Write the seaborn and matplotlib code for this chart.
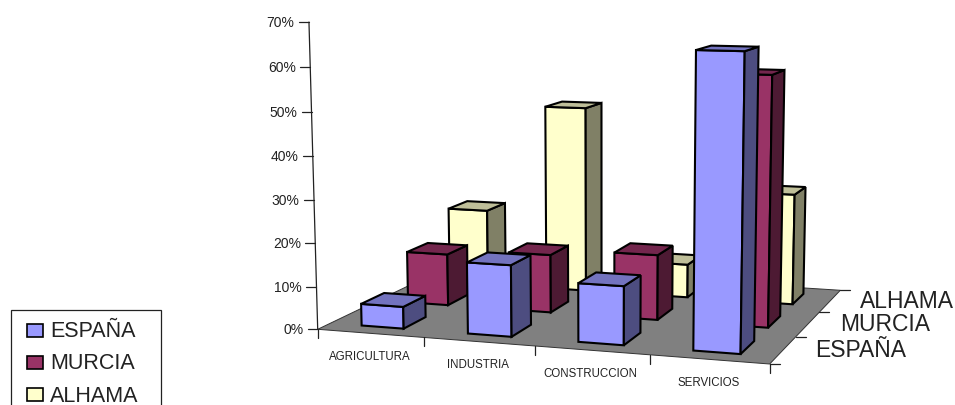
import numpy as np
import matplotlib
matplotlib.use("Agg")
import matplotlib.pyplot as plt
from matplotlib.legend_handler import HandlerPatch
from matplotlib.patches import Patch, Polygon, Rectangle
import seaborn as sns

# data, % of employment per sector
sectores = ["AGRICULTURA", "INDUSTRIA", "CONSTRUCCION", "SERVICIOS"]
zonas = ["ESPAÑA", "MURCIA", "ALHAMA"]
espana = [5.1, 16.4, 13.3, 65.3]
murcia = [12.5, 13.9, 15.4, 58.0]
alhama = [19.0, 46.0, 8.2, 26.9]
ticks_y = [0, 10, 20, 30, 40, 50, 60, 70]

sns.set_theme(style="white")
plt.rcParams['font.family'] = ['Liberation Sans', 'DejaVu Sans']
colores = sns.color_palette(["#9999FF", "#993366", "#FFFFCC"])
texto = "#222222"

# perspective fitted on the picture: floor (u, v) -> pixels, plus height
H = np.array([[98.25, 70.5, 317.7],
              [1.685, -5.8, 330.3],
              [-0.01915, 0.058, 1.0]])
punto_fuga = np.array([604.0, 10400.0, 1.0])
k = -0.000423


def proyecta(u, v, z=0):
    p = H @ np.array([u, v, 1.0]) + z * k * punto_fuga
    return p[:2] / p[2]


fig = plt.figure(figsize=(9.55, 4.06), dpi=100)
ax = fig.add_axes([0, 0, 1, 1])
ax.set_xlim(0, 955)
ax.set_ylim(406, 0)
ax.axis("off")


def cara(puntos, color):
    ax.add_patch(Polygon([proyecta(*q) for q in puntos], closed=True, facecolor=color,
                         edgecolor="black", lw=1.5, joinstyle="miter"))


# suelo
nx, ny = len(sectores), len(zonas)
ax.add_patch(Polygon([proyecta(0, 0), proyecta(nx, 0), proyecta(nx, ny), proyecta(0, ny)],
                     closed=True, facecolor="#808080", edgecolor="#333333", lw=0.7))

# eje y
base, tope = proyecta(0, 0, 0), proyecta(0, 0, ticks_y[-1])
ax.plot([base[0], tope[0]], [base[1], tope[1]], color="#222222", lw=0.9)
for t in ticks_y:
    x, y = proyecta(0, 0, t)
    ax.plot([x - 10, x], [y, y], color="#222222", lw=0.9)
    ax.text(x - 14.5, y, f"{t}%", ha="right", va="center", fontsize=10, color=texto)

# eje de sectores
for i in range(nx + 1):
    x, y = proyecta(i, 0)
    ax.plot([x, x], [y, y + 9], color="#222222", lw=0.9)
for i, nombre in enumerate(sectores):
    a, b = proyecta(i, 0), proyecta(i + 1, 0)
    ax.text((a[0] + b[0]) / 2 - 1.5, (a[1] + b[1]) / 2 + 22.5, nombre, ha="center", va="center",
            fontsize=8.3, color=texto)

# eje de zonas
for j in range(ny + 1):
    x, y = proyecta(nx, j)
    ax.plot([x, x + 10], [y, y], color="#222222", lw=0.9)
for j, nombre in enumerate(zonas):
    x, y = proyecta(nx, j + 0.5)
    ax.text(x + 77, y, nombre, ha="center", va="center", fontsize=16.5, color=texto)

# barras, de atras hacia delante
valores = [espana, murcia, alhama]
for j in reversed(range(ny)):
    color = np.array(colores[j])
    for i in range(nx):
        z = valores[j][i]
        u0, u1 = i + 0.3, i + 0.7
        v0, v1 = j + 0.25, j + 0.73
        cara([(u0, v0, 0), (u1, v0, 0), (u1, v0, z), (u0, v0, z)], color)
        cara([(u1, v0, 0), (u1, v1, 0), (u1, v1, z), (u1, v0, z)], color * 0.5)
        cara([(u0, v0, z), (u1, v0, z), (u1, v1, z), (u0, v1, z)], color * 0.75)


# cuadrito de la leyenda, pegado al texto
def cuadrito(legend, orig_handle, xdescent, ydescent, width, height, fontsize):
    return Rectangle((width - 16.5 - xdescent, height / 2 - 6 - ydescent), 11, 9.5)


# leyenda, cortada por abajo como en el original
handles = [Patch(facecolor=c, edgecolor="black", lw=1.2, label=n) for c, n in zip(colores, zonas)]
leg = fig.legend(handles=handles, loc="upper left", bbox_to_anchor=(11 / 955, 95 / 406, 150 / 955, 0),
                 mode="expand", borderaxespad=0, fontsize=15.5, frameon=True, fancybox=False,
                 framealpha=1, edgecolor="#222222", borderpad=0.47, labelspacing=0.52,
                 handlelength=1.35, handleheight=0.72, handletextpad=0.0, labelcolor=texto,
                 handler_map={Patch: HandlerPatch(patch_func=cuadrito)})
leg.get_frame().set_linewidth(0.9)

fig.savefig("out.png", dpi=100)
